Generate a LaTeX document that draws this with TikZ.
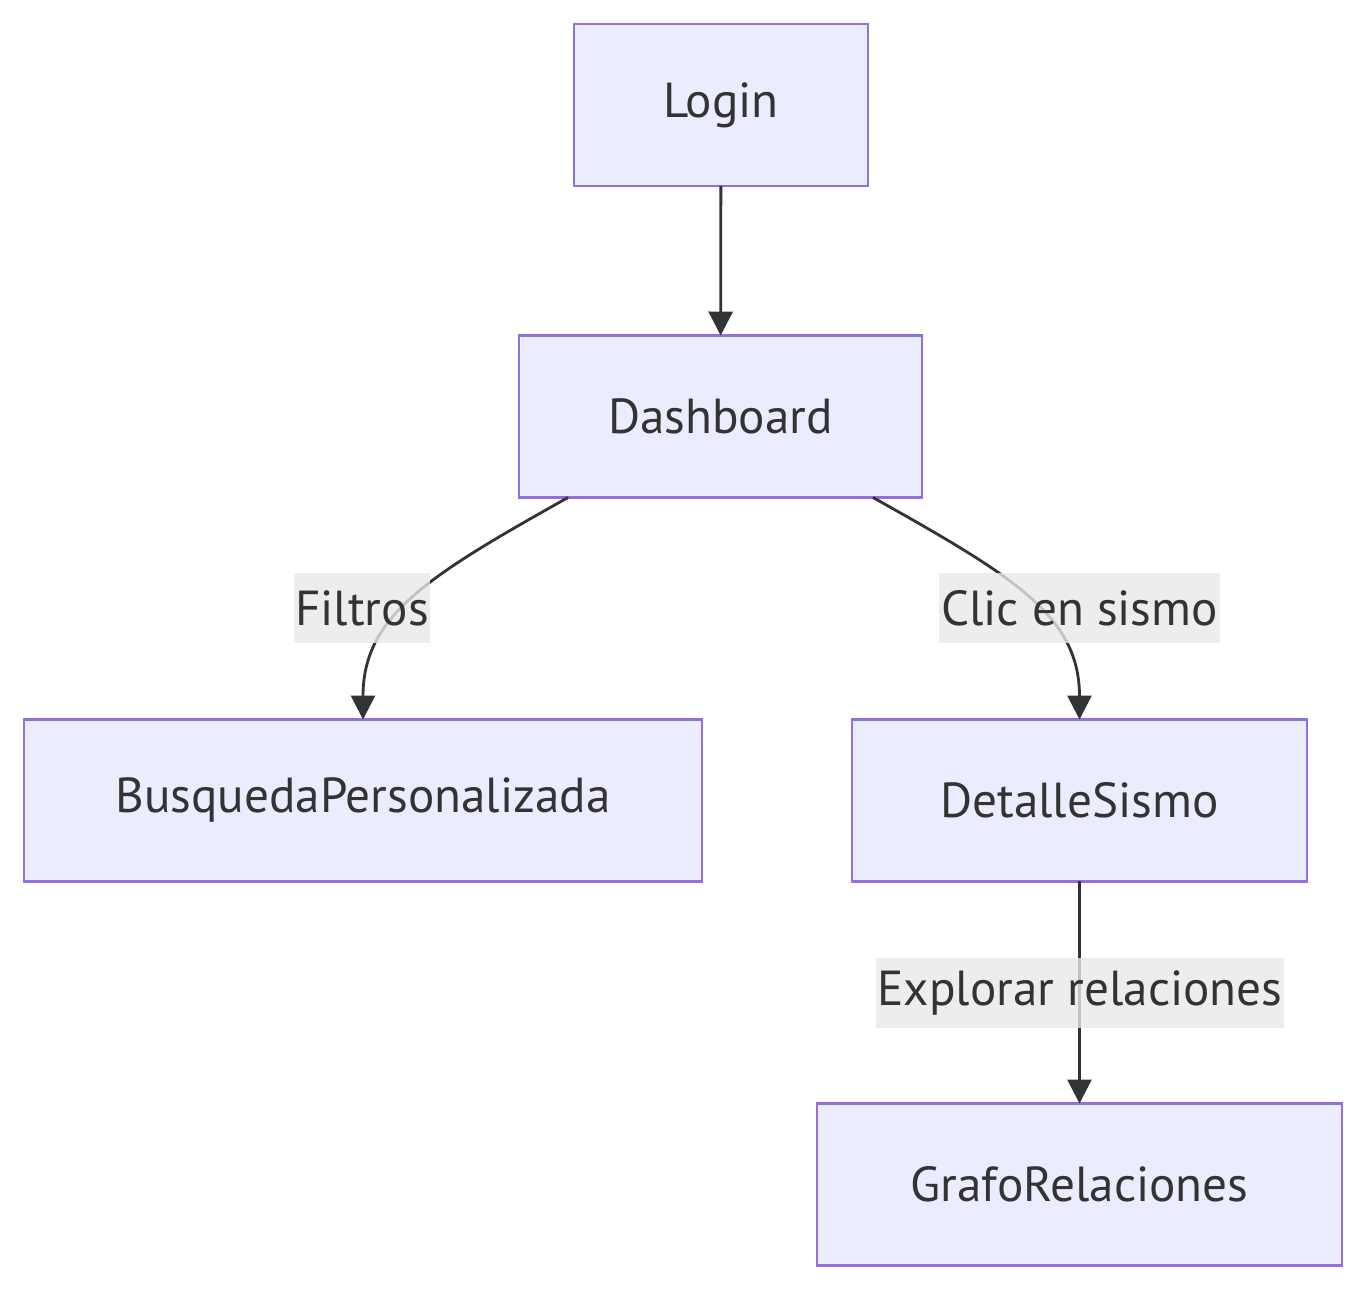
\documentclass[tikz,border=0pt]{standalone}
\usepackage{fontspec}
\setmainfont{PT Sans}
\usepackage{tikz}
\usetikzlibrary{arrows.meta,positioning,calc}
\definecolor{mmfill}{HTML}{ECECFF}
\definecolor{mmstroke}{HTML}{9370DB}
\definecolor{mmline}{HTML}{333333}
\definecolor{mmlabel}{HTML}{E8E8E8}
\tikzstyle{state} = [rectangle, minimum height=3.24cm, text centered, draw=mmstroke, fill=mmfill, line width=1.5pt, inner sep=0pt, outer sep=0pt, text=mmline, font=\fontsize{28}{33}\selectfont]
\tikzstyle{edgelabel} = [rectangle, minimum height=1.4cm, inner xsep=1pt, fill=mmlabel, fill opacity=0.8, text opacity=1, text=mmline, font=\fontsize{28}{33}\selectfont]
\tikzstyle{arrow} = [line width=1.6pt, color=mmline, -{Triangle[length=0.48cm,width=0.48cm]}]

\begin{document}
\begin{tikzpicture}[x=0.02cm,y=-0.02cm]
\useasboundingbox (0,0) rectangle (1367,1290);
% Nodes
\node (login) [state, minimum width=5.88cm] at (721,105) {Login};
\node (dash) [state, minimum width=8.06cm] at (720.5,416.5) {Dashboard};
\node (busq) [state, minimum width=13.56cm] at (363,800.5) {BusquedaPersonalizada};
\node (detalle) [state, minimum width=9.1cm] at (1079.5,800.5) {DetalleSismo};
\node (grafo) [state, minimum width=10.5cm] at (1079.5,1184.5) {GrafoRelaciones};

% Arrows
\draw[arrow] (login) -- (dash);
\draw[arrow] ($(dash.south west)+(49,0)$) .. controls (430,575) and (363,615) .. (busq.north);
\draw[arrow] ($(dash.south east)+(-49,0)$) .. controls (1011,575) and (1079.5,615) .. (detalle.north);
\draw[arrow] (detalle) -- (grafo);

% Labels
\node (lfiltros) [edgelabel] at (362,608) {Filtros};
\node (lclic) [edgelabel] at (1079.5,608) {Clic en sismo};
\node (lexplorar) [edgelabel] at (1080,993) {Explorar relaciones};
\end{tikzpicture}
\end{document}
